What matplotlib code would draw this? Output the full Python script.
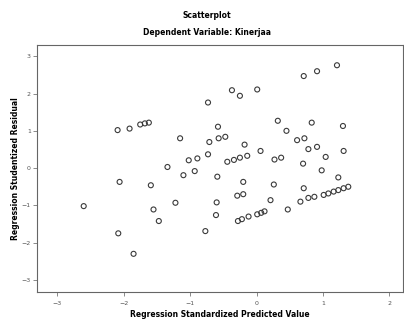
import matplotlib.pyplot as plt

# Regression Standardized Predicted Value (x) / Studentized Residual (y)
pred = [-2.60, -2.09, -1.91, -1.75, -1.68, -1.62, -2.06, -2.08, -1.85, -1.59,
        -1.55, -1.47, -1.34, -1.22, -1.15, -1.10, -1.02, -0.93, -0.89, -0.77,
        -0.73, -0.73, -0.71, -0.61, -0.60, -0.59, -0.58, -0.57, -0.47, -0.37,
        -0.25, 0.01, -0.44, -0.34, -0.25, -0.14, -0.29, -0.20, -0.28, -0.22,
        -0.20, -0.18, -0.12, 0.01, 0.07, 0.12, 0.06, 0.21, 0.26, 0.27,
        0.37, 0.32, 0.45, 0.47, 0.61, 0.72, 0.66, 0.70, 0.71, 0.71,
        0.78, 0.91, 0.78, 0.87, 0.83, 0.91, 0.98, 1.01, 1.08, 1.16,
        1.23, 1.31, 1.38, 1.04, 1.21, 1.23, 1.30, 1.31]
resid = [-1.02, 1.02, 1.06, 1.17, 1.20, 1.22, -0.37, -1.75, -2.30, -0.46,
         -1.11, -1.42, 0.03, -0.93, 0.80, -0.19, 0.21, -0.08, 0.26, -1.69,
         1.76, 0.37, 0.70, -1.26, -0.92, -0.23, 1.11, 0.80, 0.84, 2.09,
         1.94, 2.11, 0.17, 0.22, 0.28, 0.33, -0.74, -0.70, -1.42, -1.37,
         -0.37, 0.63, -1.30, -1.24, -1.20, -1.16, 0.46, -0.86, -0.44, 0.23,
         0.28, 1.27, 1.00, -1.11, 0.75, 0.80, -0.90, 0.12, -0.54, 2.47,
         0.51, 0.57, -0.80, -0.77, 1.22, 2.60, -0.06, -0.72, -0.68, -0.63,
         -0.59, -0.54, -0.50, 0.30, 2.76, -0.25, 1.13, 0.46]

xticks = [-3, -2, -1, 0, 1, 2]
yticks = [-3, -2, -1, 0, 1, 2, 3]

fig = plt.figure(figsize=(4.04, 3.2), dpi=100)
ax = fig.add_axes([0.092, 0.088, 0.905, 0.771])

ax.scatter(pred, resid, s=13, facecolors='none', edgecolors='#3a3a3a', linewidths=0.8)

ax.set_xlim(-3.3, 2.2)
ax.set_ylim(-3.32, 3.3)
ax.set_xticks(xticks)
ax.set_yticks(yticks)
ax.tick_params(labelsize=4.5, labelcolor='#555555', length=3, width=0.6, color='#777777')
ax.tick_params(axis='y', pad=1.5)
for s in ax.spines.values():
    s.set_color('#666666')
    s.set_linewidth(0.8)

ax.set_xlabel('Regression Standardized Predicted Value', fontsize=5.5, labelpad=3, weight='bold')
ax.set_ylabel('Regression Studentized Residual', fontsize=5.5, labelpad=1, weight='bold')

fig.text(0.512, 0.953, 'Scatterplot', ha='center', va='center', fontsize=5.5, weight='bold')
fig.text(0.512, 0.897, 'Dependent Variable: Kinerjaa', ha='center', va='center', fontsize=5.5, weight='bold')

fig.savefig('out.png', dpi=100)
